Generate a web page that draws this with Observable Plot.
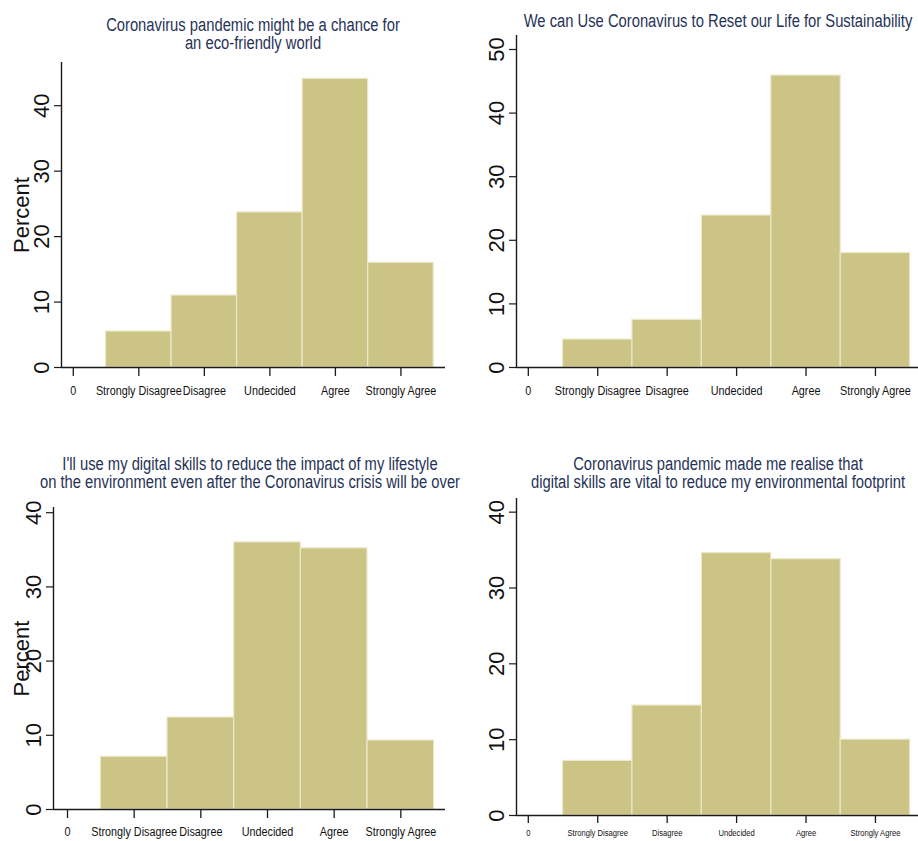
<!DOCTYPE html>
<html><head><meta charset="utf-8">
<script src="https://cdn.jsdelivr.net/npm/d3@7"></script>
<script src="https://cdn.jsdelivr.net/npm/@observablehq/plot@0.6"></script>
<style>
body{margin:0;background:#fff;}
#wrap{position:relative;width:918px;height:841px;overflow:hidden;background:#fff;}
.panel{position:absolute;}
.title{position:absolute;width:560px;text-align:center;font-family:"Liberation Sans",Arial,sans-serif;font-size:18px;line-height:18px;color:#263357;white-space:nowrap;transform:scaleX(0.82);transform-origin:50% 0;}
</style></head><body><div id="wrap"></div>
<script>
// ---- data ----
const categories = ["0", "Strongly Disagree", "Disagree", "Undecided", "Agree", "Strongly Agree"];
const titleEco = ["Coronavirus pandemic might be a chance for", "an eco-friendly world"];
const titleReset = ["We can Use Coronavirus to Reset our Life for Sustainability"];
const titleDigital = ["I'll use my digital skills to reduce the impact of my lifestyle", "on the environment even after the Coronavirus crisis will be over"];
const titleRealise = ["Coronavirus pandemic made me realise that", "digital skills are vital to reduce my environmental footprint"];
const ecoPercent = [5.5, 11.0, 23.7, 44.1, 16.0];
const resetPercent = [4.4, 7.5, 23.9, 45.9, 18.0];
const digitalPercent = [7.1, 12.4, 36.0, 35.2, 9.3];
const realisePercent = [7.2, 14.5, 34.6, 33.8, 10.0];
const yTicks40 = [0, 10, 20, 30, 40];
const yTicks50 = [0, 10, 20, 30, 40, 50];

// ---- layout ----
const panels = [
  {title: titleEco, values: ecoPercent, yTicks: yTicks40, left: 0, top: 0, width: 459, height: 420,
   xDomain: [-0.18, 5.68], yDomain: [0, 46.6], mL: 61, mR: 14, mT: 62, mB: 53, percent: true, labelOffset: 48,
   xFont: 13.5, tickX: 9, padX: 18, titleCx: 253, titleTop: 16},
  {title: titleReset, values: resetPercent, yTicks: yTicks50, left: 459, top: 0, width: 459, height: 420,
   xDomain: [-0.17, 5.62], yDomain: [0, 52.2], mL: 57, mR: 0, mT: 35, mB: 53, percent: false, labelOffset: 48,
   xFont: 13.5, tickX: 9, padX: 18, titleCx: 718, titleTop: 12},
  {title: titleDigital, values: digitalPercent, yTicks: yTicks40, left: 0, top: 420, width: 459, height: 421,
   xDomain: [-0.21, 5.67], yDomain: [0, 40.7], mL: 53, mR: 14, mT: 87, mB: 32, percent: true, labelOffset: 40,
   xFont: 13.5, tickX: 9, padX: 17, titleCx: 250, titleTop: 455},
  {title: titleRealise, values: realisePercent, yTicks: yTicks40, left: 459, top: 420, width: 459, height: 421,
   xDomain: [-0.17, 5.62], yDomain: [0, 41.8], mL: 57, mR: 0, mT: 78, mB: 26, percent: false, labelOffset: 48,
   xFont: 9.5, tickX: 8, padX: 12, titleCx: 718, titleTop: 455}
];

const wrap = document.getElementById("wrap");
const sans = "'Liberation Sans',Arial,sans-serif";

function condense(svg, label, k) {
  svg.querySelectorAll(`g[aria-label="${label}"] text`).forEach(t => {
    let tr = t.getAttribute("transform") || "";
    if (t.hasAttribute("x") || t.hasAttribute("y")) {
      const x = +t.getAttribute("x") || 0, y = +t.getAttribute("y") || 0;
      t.removeAttribute("x"); t.removeAttribute("y");
      tr = `${tr} translate(${x},${y})`;
    }
    t.setAttribute("transform", `${tr} scale(${k},1)`);
  });
}

for (const p of panels) {
  const data = p.values.map((v, i) => ({cat: i + 1, value: v}));
  const chart = Plot.plot({
    width: p.width, height: p.height,
    marginLeft: p.mL, marginRight: p.mR, marginTop: p.mT, marginBottom: p.mB,
    style: {fontFamily: sans, background: "transparent", overflow: "visible"},
    x: {type: "linear", domain: p.xDomain},
    y: {type: "linear", domain: p.yDomain},
    marks: [
      Plot.rectY(data, {x1: d => d.cat - 0.5, x2: d => d.cat + 0.5, y: "value", fill: "#cbc484", stroke: "#ebe8cc", strokeWidth: 1.2}),
      Plot.ruleY([p.yDomain[0]], {stroke: "#1a1a1a", strokeWidth: 1.4}),
      Plot.ruleX([p.xDomain[0]], {stroke: "#1a1a1a", strokeWidth: 1.4}),
      Plot.axisX({ticks: [0, 1, 2, 3, 4, 5], tickFormat: i => categories[i], tickSize: p.tickX, tickPadding: p.padX,
        fontSize: p.xFont, fontFamily: sans, label: null, stroke: "#1a1a1a", strokeWidth: 1.3, fill: "#111"}),
      Plot.axisY({ticks: p.yTicks, tickSize: 7, tickPadding: 6, tickRotate: -90, fontSize: 22, fontFamily: sans,
        fill: "#111", stroke: "#1a1a1a", strokeWidth: 1.2,
        label: p.percent ? "Percent" : null, labelAnchor: "center", labelArrow: "none", labelOffset: p.labelOffset})
    ]
  });
  condense(chart, "x-axis tick label", 0.8);
  chart.classList.add("panel");
  chart.style.left = p.left + "px";
  chart.style.top = p.top + "px";
  wrap.appendChild(chart);

  const t = document.createElement("div");
  t.className = "title";
  t.style.left = (p.titleCx - 280) + "px";
  t.style.top = p.titleTop + "px";
  t.innerHTML = p.title.map(s => s.replace(/&/g, "&amp;").replace(/</g, "&lt;")).join("<br>");
  wrap.appendChild(t);
}
</script></body></html>
